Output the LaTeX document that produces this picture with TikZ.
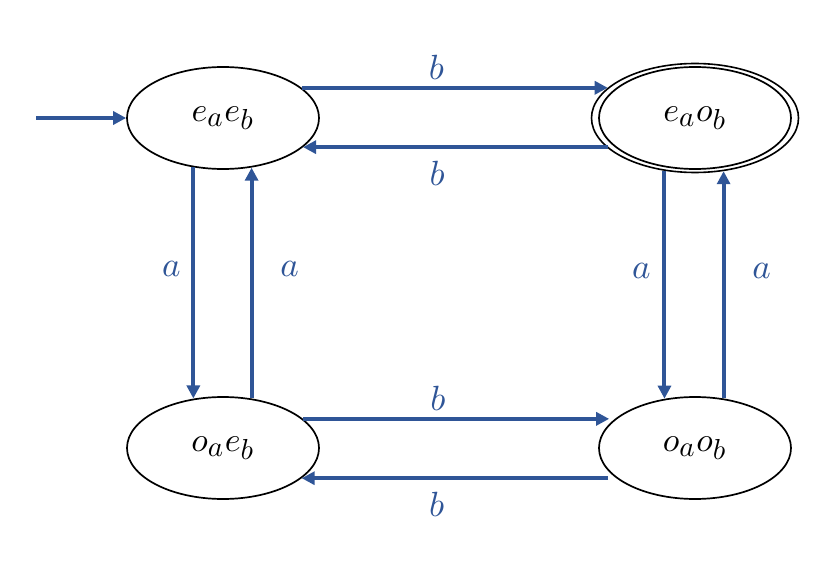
\documentclass[tikz,border=0pt]{standalone}
\usepackage{graphicx}
\usetikzlibrary{arrows.meta,shapes.geometric}
\definecolor{arrblue}{RGB}{47,85,151}
\newcommand{\mylab}[1]{\raisebox{-3pt}{\scalebox{3.4}{$#1$}}}
\newcommand{\mylbl}[1]{\scalebox{3.5}{$#1$}}
\newcommand{\sbs}[1]{\scalebox{0.85}{$#1$}}
\begin{document}
\begin{tikzpicture}[x=1pt,y=-1pt,
  state/.style={draw=black,line width=1.7pt,ellipse,minimum width=192pt,minimum height=102pt,inner sep=0pt},
  outerstate/.style={draw=black,line width=1.6pt,ellipse,minimum width=207pt,minimum height=109pt,inner sep=0pt},
  arr/.style={draw=arrblue,line width=4pt,-{Triangle[length=13pt,width=13pt]}},
  lbl/.style={text=arrblue,inner sep=0pt}]
\useasboundingbox (0,0) rectangle (835,564);
\node[state] (A) at (223,118) {\mylab{e_{\sbs{a}}e_{\sbs{b}}}};
\node[state] (B) at (695,118) {\mylab{e_{\sbs{a}}o_{\sbs{b}}}};
\node[outerstate] (Bo) at (695,118) {};
\node[state] (C) at (223,448) {\mylab{o_{\sbs{a}}e_{\sbs{b}}}};
\node[state] (D) at (695,448) {\mylab{o_{\sbs{a}}o_{\sbs{b}}}};
\coordinate (init) at (36,118);
\draw[arr] (init) -- (A.west);
\draw[arr] (A.21) -- ([xshift=17pt]Bo.west |- A.21) node[lbl,pos=0.44,yshift=20pt] {\mylbl{b}};
\draw[arr] ([xshift=17pt]Bo.west |- A.340.8) -- (A.340.8) node[lbl,pos=0.56,yshift=-26pt] {\mylbl{b}};
\draw[arr] (C.20.2) -- ([xshift=11pt]D.west |- C.20.2) node[lbl,pos=0.44,yshift=21pt] {\mylbl{b}};
\draw[arr] ([xshift=10pt]D.west |- C.339.8) -- (C.339.8) node[lbl,pos=0.56,yshift=-26pt] {\mylbl{b}};
\draw[arr] (A.239.2) -- (A.239.2 |- C.120.8) node[lbl,midway,xshift=-22pt,yshift=14pt] {\mylbl{a}};
\draw[arr] (C.60.2) -- (C.60.2 |- A.299.8) node[lbl,midway,xshift=38pt,yshift=14pt] {\mylbl{a}};
\draw[arr] (Bo.240.8) -- (Bo.240.8 |- D.121) node[lbl,midway,xshift=-23pt,yshift=14pt] {\mylbl{a}};
\draw[arr] (D.60.2) -- (D.60.2 |- Bo.298.3) node[lbl,midway,xshift=38pt,yshift=14pt] {\mylbl{a}};
\end{tikzpicture}
\end{document}
